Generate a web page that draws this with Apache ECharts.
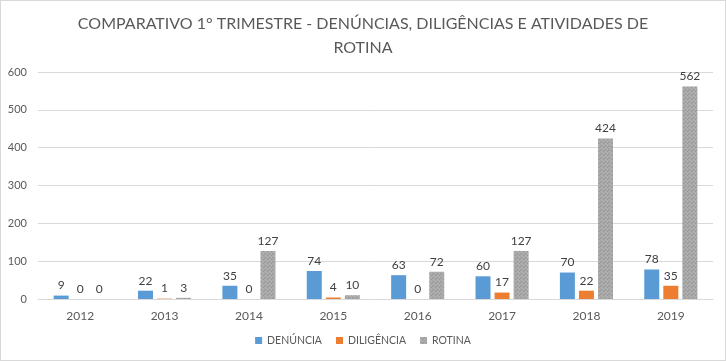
<!DOCTYPE html>
<html><head><meta charset="utf-8">
<script src="https://cdn.jsdelivr.net/npm/echarts@6/dist/echarts.min.js"></script>
<style>html,body{margin:0;padding:0;background:#fff}#c{width:724px;height:359px;border:1px solid #d9d9d9}</style>
</head><body><div id="c"></div>
<script>
const years = ['2012','2013','2014','2015','2016','2017','2018','2019'];
const denuncia = [9,22,35,74,63,60,70,78];
const diligencia = [0,1,0,4,0,17,22,35];
const rotina = [0,3,127,10,72,127,424,562];
const yTicks = {min:0,max:600,interval:100};

function pattern(){
  const c=document.createElement('canvas');c.width=4;c.height=4;
  const x=c.getContext('2d');x.fillStyle='#a8a8a8';x.fillRect(0,0,4,4);
  x.fillStyle='#989898';x.fillRect(0,0,1,1);x.fillRect(2,2,1,1);x.fillRect(3,1,1,1);
  x.fillStyle='#b4b4b4';x.fillRect(2,0,1,1);x.fillRect(0,2,1,1);x.fillRect(1,3,1,1);
  return c;
}
const chart = echarts.init(document.getElementById('c'),null,{renderer:'canvas'});
const F = 'Lato, "Open Sans", sans-serif';
const lbl = {show:true,position:'top',distance:4,color:'#404040',fontSize:12,fontFamily:F};
chart.setOption({
  animation:false,
  title:{text:'COMPARATIVO 1° TRIMESTRE - DENÚNCIAS, DILIGÊNCIAS E ATIVIDADES DE\nROTINA',left:'center',top:6,
    textStyle:{color:'#595959',fontSize:16,fontWeight:'normal',fontFamily:F,lineHeight:24}},
  legend:{bottom:9,left:'center',itemWidth:7,itemHeight:7,itemGap:14,icon:'rect',
    textStyle:{color:'#595959',fontSize:10.5,fontFamily:F}},
  grid:{left:37,right:12,top:71,bottom:61},
  xAxis:{type:'category',data:years,axisTick:{show:false},
    axisLine:{lineStyle:{color:'#d9d9d9'}},
    axisLabel:{color:'#595959',fontSize:12,margin:11,fontFamily:F}},
  yAxis:{type:'value',min:yTicks.min,max:yTicks.max,interval:yTicks.interval,
    axisLabel:{color:'#595959',fontSize:11,margin:11,fontFamily:F},
    splitLine:{lineStyle:{color:'#d9d9d9'}}},
  series:[
    {name:'DENÚNCIA',type:'bar',data:denuncia,barWidth:15,barGap:'27%',itemStyle:{color:'#5b9bd5'},label:lbl},
    {name:'DILIGÊNCIA',type:'bar',data:diligencia,barWidth:15,barGap:'27%',itemStyle:{color:'#ed7d31'},label:lbl},
    {name:'ROTINA',type:'bar',data:rotina,barWidth:15,barGap:'27%',itemStyle:{color:{image:pattern(),repeat:'repeat'}},label:lbl}
  ]
});
</script></body></html>
